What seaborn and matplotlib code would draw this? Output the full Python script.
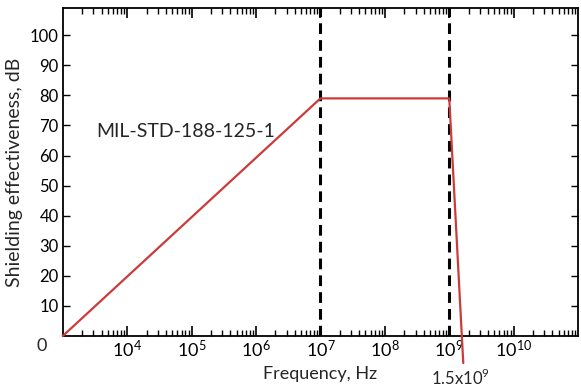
import pandas as pd
import matplotlib.pyplot as plt
import matplotlib.ticker as mticker
import seaborn as sns

# MIL-STD-188-125-1 shielding effectiveness mask
freq_hz = [1e3, 1e7, 1e9, 1.65e9]
shielding_db = [0, 79, 79, -9]
boundary_freqs = [1e7, 1e9]
decade_ticks = [1e4, 1e5, 1e6, 1e7, 1e8, 1e9, 1e10]
y_ticks = [10, 20, 30, 40, 50, 60, 70, 80, 90, 100]

df = pd.DataFrame({"freq": freq_hz, "se": shielding_db})

sns.set_style("ticks")
plt.rcParams["font.family"] = ["Lato", "DejaVu Sans"]
plt.rcParams["mathtext.fontset"] = "custom"
plt.rcParams["mathtext.rm"] = "Lato"

fig = plt.figure(figsize=(5.81, 3.88), dpi=100)
ax = fig.add_axes([0.108, 0.134, 0.887, 0.845])

ax.set_xscale("log")
sns.lineplot(data=df, x="freq", y="se", color="#cc3b3b", linewidth=1.6,
             ax=ax, clip_on=False, zorder=3)

for f in boundary_freqs:
    ax.plot([f, f], [0, 109], color="black", linewidth=2.2,
            linestyle=(0, (3.5, 2)), zorder=2)

ax.set_xlim(1e3, 1e11)
ax.set_ylim(0, 109)

ax.set_xticks(decade_ticks)
ax.xaxis.set_major_formatter(mticker.LogFormatterMathtext())
ax.xaxis.set_minor_locator(mticker.LogLocator(base=10, subs=range(2, 10), numticks=20))
ax.xaxis.set_minor_formatter(mticker.NullFormatter())
ax.set_yticks(y_ticks)

ax.tick_params(axis="both", which="both", direction="in", top=True, right=True,
               labelsize=12, colors="black", pad=3)
ax.tick_params(axis="x", which="major", length=7, width=1.2, labelsize=13, pad=2)
ax.tick_params(axis="x", which="minor", length=4, width=1)
ax.tick_params(axis="y", which="major", length=5, width=1)

for spine in ax.spines.values():
    spine.set_linewidth(1.3)
    spine.set_color("black")

ax.text(-0.04, -0.03, "0", transform=ax.transAxes, fontsize=13,
        ha="center", va="center")
ax.text(1.5e9, -14, r"1.5x10$^9$", fontsize=12, ha="center", va="center",
        clip_on=False)
ax.text(3.3e3, 68, "MIL-STD-188-125-1", fontsize=14, ha="left", va="center")

ax.set_xlabel("Frequency, Hz", fontsize=13, labelpad=4)
ax.set_ylabel("Shielding effectiveness, dB", fontsize=14, labelpad=5)

fig.savefig("out.png", dpi=100)
